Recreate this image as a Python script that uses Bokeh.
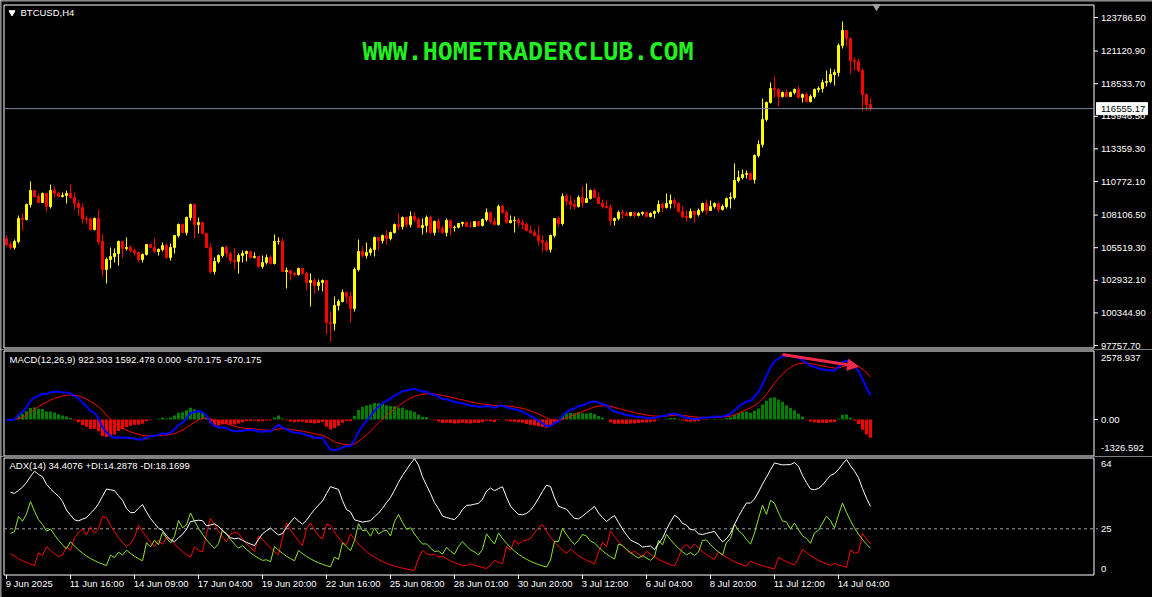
import numpy as np
from bokeh.plotting import figure
from bokeh.models import Range1d, Arrow, NormalHead
from bokeh.layouts import column
from bokeh.embed import file_html
from bokeh.resources import INLINE
from bokeh.core.properties import value

# ---------------- data ----------------
symbol_title = "BTCUSD,H4"
watermark = "WWW.HOMETRADERCLUB.COM"
first_open = 106248
closes = [
    105773, 105534, 106011, 107835, 107756, 108947, 110058, 109582, 109105, 109820,  # 0-9
    108788, 110058, 109820, 109582, 109661, 109820, 109502, 109026, 108708, 107835,  # 10-19
    107756, 106963, 107835, 106011, 103788, 104582, 104820, 105058, 106011, 105455,  # 20-29
    105534, 105296, 105137, 104582, 104979, 105773, 105534, 105217, 105376, 105693,  # 30-39
    104740, 105534, 106486, 107360, 106724, 107914, 108947, 107360, 107518, 106645,  # 40-49
    105534, 103630, 104423, 104899, 105534, 105058, 104502, 104423, 104899, 105058,  # 50-59
    105217, 104740, 104820, 104026, 104343, 104740, 104264, 106011, 106030, 103630,  # 60-69
    103709, 103471, 103392, 103867, 103471, 102756, 102915, 102518, 102756, 102915,  # 70-79
    99582, 99503, 100931, 101249, 101963, 101646, 100693, 103788, 105217, 104899,    # 80-89
    105137, 105376, 106327, 106090, 106486, 106248, 106724, 107360, 107201, 107914,  # 90-99
    107360, 107994, 107756, 107121, 107280, 107914, 106724, 107598, 107042, 106724,  # 100-109
    107677, 107121, 107140, 107439, 107518, 107201, 107190, 107598, 107280, 107756,  # 110-119
    108311, 107598, 107360, 108788, 108311, 107518, 107677, 107700, 107518, 107360,  # 120-129
    106883, 106724, 106486, 106090, 105931, 105376, 106486, 107835, 107439, 109582,  # 130-139
    109185, 108947, 108788, 109502, 109105, 109423, 110058, 109502, 109026, 108788,  # 140-149
    108708, 107677, 107835, 108311, 108232, 108073, 108311, 108073, 108232, 108311,  # 150-159
    107994, 108232, 108391, 108947, 108708, 109026, 109264, 109026, 108391, 107994,  # 160-169
    107914, 108391, 108153, 108470, 109026, 108470, 108788, 109026, 108550, 108788,  # 170-179
    109423, 109502, 110851, 111089, 111328, 111407, 110931, 112835, 113709, 115692,  # 180-189
    117041, 118152, 118073, 117518, 117835, 117518, 117835, 118073, 117438, 117677,  # 190-199
    117121, 117518, 118073, 118152, 118628, 118708, 119264, 119422, 121565, 122755,  # 200-209
    122120, 120374, 120295, 119581, 117677, 116883, 116555.17,                       # 210-216
]
highs = [
    106486, 105931, 106169, 108073, 108232, 109026, 110772, 110058, 109820, 109899,
    109899, 110534, 110375, 109979, 109899, 110058, 110534, 109899, 109264, 109026,
    108073, 107914, 107914, 108550, 106566, 104740, 105534, 105455, 106090, 106011,
    106327, 105693, 105455, 105137, 105058, 105773, 105773, 106248, 105455, 105931,
    105852, 105852, 106486, 107439, 107439, 107994, 109026, 109026, 107914, 107518,
    106724, 105852, 104740, 104979, 105614, 105693, 105217, 105455, 105058, 105296,
    105296, 105296, 105137, 104899, 104899, 104979, 104899, 106566, 106327, 106248,
    103946, 103720, 103630, 103946, 103946, 103630, 103471, 103074, 102995, 102995,
    102930, 100455, 101646, 101408, 102201, 102043, 102043, 103946, 106169, 105614,
    105931, 105534, 106407, 106327, 106566, 106883, 106804, 107439, 108232, 107994,
    107994, 108391, 108311, 107914, 107835, 108073, 108073, 107677, 107835, 107280,
    107835, 107756, 107280, 107460, 107598, 107598, 107598, 107620, 107620, 107835,
    108629, 108391, 107914, 108947, 108947, 108470, 108073, 107994, 107914, 107756,
    107518, 107280, 106963, 107280, 106486, 106090, 106566, 107860, 107994, 109820,
    109820, 109661, 109344, 109661, 110375, 110613, 110137, 110216, 109899, 109344,
    109264, 108947, 107914, 108470, 108550, 108391, 108330, 108330, 108330, 108391,
    108391, 108330, 108470, 109264, 109105, 109820, 109741, 109423, 109105, 108788,
    108470, 108629, 108470, 108629, 109105, 109344, 109264, 109105, 109105, 108947,
    109502, 109899, 112200, 111645, 111724, 111645, 111486, 112915, 114026, 117359,
    117121, 118628, 119105, 118152, 117915, 118073, 117915, 118152, 118311, 117756,
    117835, 117677, 118152, 118311, 118867, 119581, 119740, 119660, 121724, 123470,
    122770, 122199, 120612, 120533, 119740, 117756, 117359,
]
lows = [
    105614, 105376, 105376, 105852, 106883, 107677, 108708, 109502, 109080, 109105,
    108391, 108629, 109502, 109560, 109502, 109026, 109423, 108550, 108073, 107439,
    107439, 106883, 106883, 105773, 103233, 102677, 103867, 104343, 104105, 104740,
    105296, 105137, 104899, 104343, 104343, 104899, 105500, 105137, 104899, 105217,
    104661, 104502, 105058, 106327, 106645, 106486, 107677, 106248, 106645, 106566,
    105500, 103471, 103392, 104264, 104740, 104740, 104264, 103788, 103471, 104343,
    104423, 104661, 104661, 103946, 103867, 104185, 104185, 104185, 105773, 103600,
    102280, 102915, 103233, 103312, 103392, 102122, 100852, 101884, 102122, 102043,
    98630, 98075, 98947, 100534, 101169, 101090, 99582, 100455, 103630, 104740,
    104661, 104899, 104820, 105296, 105852, 105773, 106090, 106645, 106883, 106963,
    107121, 107121, 107518, 107100, 106566, 106724, 106645, 106486, 106724, 106645,
    106407, 106486, 106804, 107042, 107201, 107180, 107121, 107180, 107201, 107201,
    107598, 107439, 107280, 107280, 108232, 107439, 107439, 106724, 107201, 106963,
    106804, 106645, 106407, 105693, 105217, 105217, 105137, 106327, 107201, 107280,
    108867, 108550, 108550, 108708, 108708, 109105, 109344, 109480, 109000, 108629,
    108629, 107280, 107280, 107677, 107835, 107994, 107994, 107914, 107994, 108073,
    107914, 107914, 107835, 108232, 108311, 108629, 108629, 108629, 108311, 107835,
    107598, 107835, 107518, 107994, 108311, 108153, 108470, 108629, 108311, 108470,
    108629, 108629, 109344, 110692, 110931, 111010, 110851, 110613, 112676, 113470,
    115534, 116962, 117438, 116724, 117438, 117438, 117500, 117677, 117359, 117041,
    117041, 117041, 117359, 117835, 117835, 118311, 118549, 118390, 119105, 121327,
    121486, 119343, 119581, 119422, 116406, 116406, 116406,
]
bid_price = 116555.17
price_ticks = [123786.50, 121120.90, 118533.70, 115946.50, 113359.30, 110772.10,
               108106.50, 105519.30, 102932.10, 100344.90, 97757.70]
macd_top, macd_bottom = 2578.937, -1326.592
macd_tick_labels = ["2578.937", "0.00", "-1326.592"]
adx_top, adx_bottom, adx_level = 64, 0, 25
date_idx = [0, 16, 32, 48, 64, 80, 96, 112, 128, 144, 160, 176, 192, 208]
date_labels = ["9 Jun 2025", "11 Jun 16:00", "14 Jun 09:00", "17 Jun 04:00", "19 Jun 20:00",
               "22 Jun 16:00", "25 Jun 08:00", "28 Jun 01:00", "30 Jun 20:00", "3 Jul 12:00",
               "6 Jul 04:00", "8 Jul 20:00", "11 Jul 12:00", "14 Jul 04:00"]
macd_legend = "MACD(12,26,9) 922.303 1592.478 0.000 -670.175 -670.175"
adx_legend = "ADX(14) 34.4076 +DI:14.2878 -DI:18.1699"
arrow_x = [194, 213]
arrow_y = [2465, 2010]

# ---------------- derived series ----------------
n = min(len(closes), len(highs), len(lows))
c = np.array(closes[:n], float)
h = np.array(highs[:n], float)
l = np.array(lows[:n], float)
o = np.concatenate([[first_open], c[:-1]])
h = np.maximum(h, np.maximum(o, c))
l = np.minimum(l, np.minimum(o, c))
idx = np.arange(n)


def ema(x, period, seed=None):
    a = 2.0 / (period + 1)
    out = np.empty_like(x)
    out[0] = x[0] if seed is None else seed
    for i in range(1, len(x)):
        out[i] = a * x[i] + (1 - a) * out[i - 1]
    return out


macd_line = ema(c, 12) - ema(c, 26)
signal_line = ema(macd_line, 9)
hist = macd_line - signal_line

ph, pl, pc = np.roll(h, 1), np.roll(l, 1), np.roll(c, 1)
up = h - ph
dn = pl - l
pdm = np.where((up > dn) & (up > 0), up, 0.0)
mdm = np.where((dn > up) & (dn > 0), dn, 0.0)
tr = np.maximum(h - l, np.maximum(np.abs(h - pc), np.abs(l - pc)))
pdi = np.where(tr > 0, 100 * pdm / tr, 0.0)[1:]
mdi = np.where(tr > 0, 100 * mdm / tr, 0.0)[1:]
plus_di = ema(pdi, 14, seed=pdi[:14].mean())
minus_di = ema(mdi, 14, seed=mdi[:14].mean())
ssum = plus_di + minus_di
dx = np.where(ssum > 0, 100 * np.abs(plus_di - minus_di) / np.where(ssum > 0, ssum, 1), 0.0)
adx = ema(dx, 14, seed=dx[:14].mean())
adx_x = idx[1:]

# ---------------- layout (pixel geometry of the MT4 window) ----------------
W = 1152
FONT = "Liberation Sans"
FS = "9.5px"
BAR_PX, BAR0_PX = 4.0, 6.0
BOX_L, BOX_R = 3.5, 1093.5          # panel box left / right, px
TICK_END, LAB_X = 1097.5, 1100.5    # right scale tick end and label start, px


def xd(px):
    return (px - BAR0_PX) / BAR_PX


XR = Range1d(xd(0), xd(W))


def make_fig(height, y_at):
    f = figure(width=W, height=height, x_range=XR, y_range=Range1d(y_at(height), y_at(0)),
               output_backend="svg", toolbar_location=None,
               x_axis_location=None, y_axis_location=None, min_border=0,
               background_fill_color="black", border_fill_color="black",
               outline_line_color=None)
    f.xgrid.visible = False
    f.ygrid.visible = False
    return f


def box(f, y_at, top_px, bot_px):
    f.quad(left=[xd(BOX_L)], right=[xd(BOX_R)], top=[y_at(top_px)], bottom=[y_at(bot_px)],
           fill_color=None, line_color="white", line_width=1)
    f.segment(x0=[xd(0.5)], y0=[y_at(0)], x1=[xd(0.5)], y1=[y_at(f.height)],
              line_color="#a0a0a0", line_width=1)


def texts(f, xs, ys, labels, color="white", align="left", size=FS, font=FONT,
          style="normal", baseline="middle"):
    f.text(x=xs, y=ys, text=labels, text_color=color, text_align=align,
           text_baseline=baseline, text_font=value(font), text_font_size=value(size),
           text_font_style=style)


# ---------------- main price panel ----------------
MAIN_H = 349
ppp = (price_ticks[0] - price_ticks[-1]) / (345 - 17)
main_top = price_ticks[0] + 17 * ppp


def ym(py):
    return main_top - py * ppp


main = make_fig(MAIN_H, ym)
main.segment(x0=[xd(0)], y0=[ym(0.5)], x1=[xd(W)], y1=[ym(0.5)], line_color="#a0a0a0")
box(main, ym, 4.5, 347.5)

bull = c >= o
colors = np.where(bull, "#ffff00", "#ff0000")
main.segment(x0=idx, y0=l, x1=idx, y1=h, color=colors, line_width=1)
main.vbar(x=idx, top=np.maximum(o, c), bottom=np.minimum(o, c), width=0.5,
          fill_color=colors, line_color=colors, line_width=1)

# bid line and its price box
main.segment(x0=[xd(BOX_L)], y0=[bid_price], x1=[xd(BOX_R)], y1=[bid_price],
             line_color="#778899", line_width=1)
# right price scale
k = len(price_ticks)
main.segment(x0=[xd(BOX_R)] * k, y0=price_ticks, x1=[xd(TICK_END)] * k, y1=price_ticks,
             line_color="white", line_width=1)
texts(main, [xd(LAB_X)] * k, price_ticks, [f"{t:.2f}" for t in price_ticks])
main.quad(left=[xd(1096)], right=[xd(1147)], top=[bid_price + 6 * ppp],
          bottom=[bid_price - 6 * ppp], fill_color="white", line_color="white")
texts(main, [xd(LAB_X)], [bid_price], [f"{bid_price:.2f}"], color="black")

texts(main, [xd(527.5)], [ym(51)], [watermark], color="#22ee22", align="center",
      size="25px", font="DejaVu Sans Mono", style="bold")
main.scatter(x=[xd(11.5)], y=[ym(12)], marker="inverted_triangle", size=6,
             fill_color="white", line_color="white")
texts(main, [xd(20)], [ym(12)], [symbol_title])
main.scatter(x=[xd(876)], y=[ym(6)], marker="inverted_triangle", size=7,
             fill_color="#a0a0a0", line_color="#a0a0a0")

# ---------------- MACD panel ----------------
MACD_H = 107
MACD_Y0 = 349                      # page y of this figure's top
mupp = (macd_top - macd_bottom) / (454 - 351)


def ymac(py):
    return macd_top - (py - (351 - MACD_Y0)) * mupp


macd_fig = make_fig(MACD_H, ymac)
box(macd_fig, ymac, 350.5 - MACD_Y0, 455.5 - MACD_Y0)
hcol = np.where(hist >= 0, "#008000", "#ff0000")
macd_fig.vbar(x=idx, top=hist, bottom=0, width=0.75, fill_color=hcol, line_color=None)
macd_fig.line(idx, signal_line, line_color="#ff0000", line_width=1)
macd_fig.line(idx, macd_line, line_color="#0000ff", line_width=2)
macd_fig.add_layout(Arrow(end=NormalHead(size=11, fill_color="#f0284a", line_color="#f0284a"),
                          x_start=arrow_x[0], y_start=arrow_y[0],
                          x_end=arrow_x[1], y_end=arrow_y[1],
                          line_color="#f0284a", line_width=3))
texts(macd_fig, [xd(9)], [ymac(359 - MACD_Y0)], [macd_legend])
macd_fig.segment(x0=[xd(BOX_R)], y0=[0], x1=[xd(TICK_END)], y1=[0], line_color="white")
texts(macd_fig, [xd(LAB_X)] * 3, [ymac(357 - MACD_Y0), 0.0, ymac(447 - MACD_Y0)],
      macd_tick_labels)

# ---------------- ADX panel ----------------
ADX_H = 141
ADX_Y0 = 456
aupp = (adx_top - adx_bottom) / (574 - 457)


def yadx(py):
    return adx_top - (py - (457 - ADX_Y0)) * aupp


adx_fig = make_fig(ADX_H, yadx)
box(adx_fig, yadx, 457.5 - ADX_Y0, 574.5 - ADX_Y0)
adx_fig.segment(x0=[xd(BOX_L)], y0=[adx_level], x1=[xd(TICK_END)], y1=[adx_level],
                line_color="#a0a0a0", line_width=1, line_dash="3 3")
adx_fig.line(adx_x, minus_di, line_color="#ff0000", line_width=1)
adx_fig.line(adx_x, plus_di, line_color="#8ce62e", line_width=1)
adx_fig.line(adx_x, adx, line_color="#ffffff", line_width=1)
texts(adx_fig, [xd(9)], [yadx(465 - ADX_Y0)], [adx_legend])
texts(adx_fig, [xd(LAB_X)] * 3, [yadx(463 - ADX_Y0), adx_level, yadx(568 - ADX_Y0)],
      [str(adx_top), str(adx_level), str(adx_bottom)])

# time scale
m = len(date_idx)
adx_fig.segment(x0=date_idx, y0=[yadx(574.5 - ADX_Y0)] * m, x1=date_idx,
                y1=[yadx(578.5 - ADX_Y0)] * m, line_color="white", line_width=1)
texts(adx_fig, [d - 0.2 for d in date_idx], [yadx(583 - ADX_Y0)] * m, date_labels)

layout = column(main, macd_fig, adx_fig, spacing=0)
open("out.html", "w").write(file_html(layout, INLINE))
